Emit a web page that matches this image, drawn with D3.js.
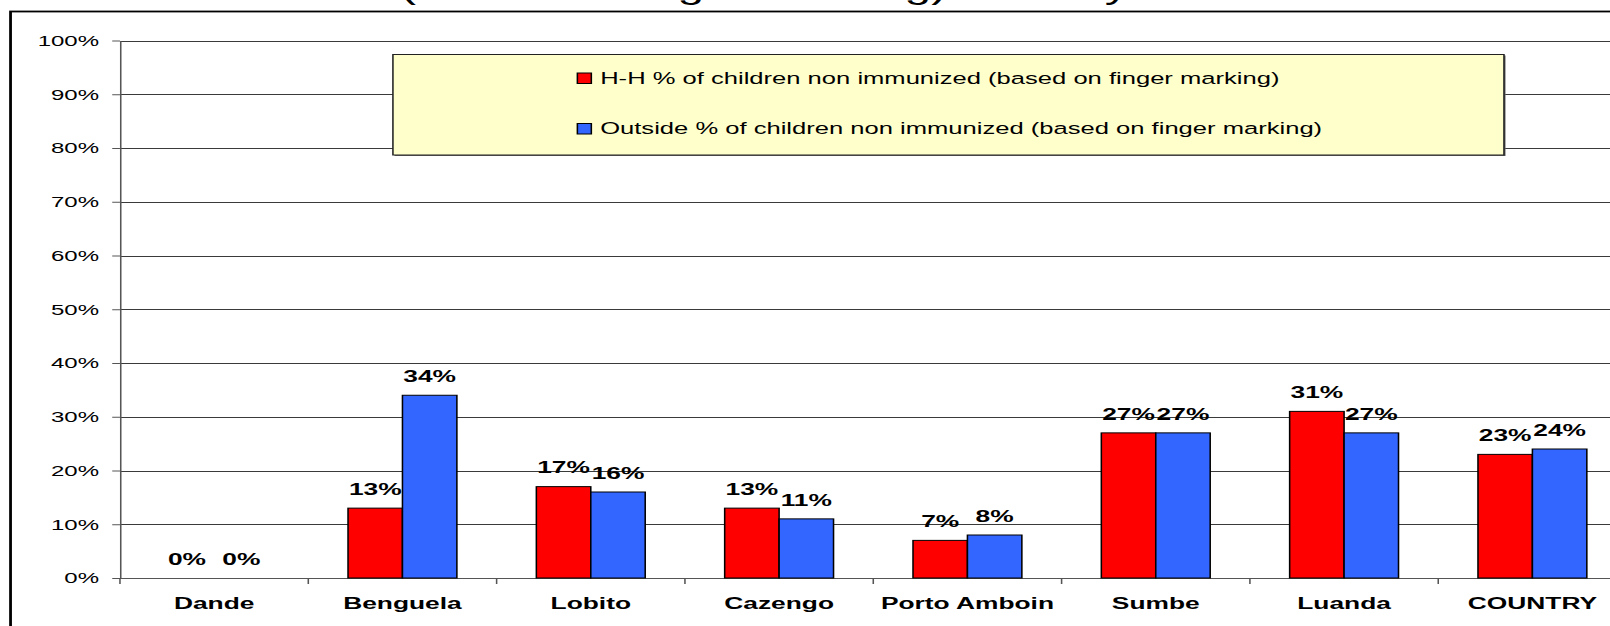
<!DOCTYPE html>
<html>
<head>
<meta charset="utf-8">
<script src="https://cdn.jsdelivr.net/npm/d3@7"></script>
<style>
  html, body { margin: 0; padding: 0; background: #fff; overflow: hidden; }
  svg { display: block; }
  text { font-family: "Liberation Sans", Arial, sans-serif; }
</style>
</head>
<body>
<div id="chart"></div>
<script>
// chart values
var categories = ["Dande", "Benguela", "Lobito", "Cazengo", "Porto Amboin", "Sumbe", "Luanda", "COUNTRY"];
var hhValues = [0, 13, 17, 13, 7, 27, 31, 23];
var outsideValues = [0, 34, 16, 11, 8, 27, 27, 24];
var seriesNames = [
  "H-H % of children non immunized (based on finger marking)",
  "Outside % of children non immunized (based on finger marking)"
];
var seriesColors = ["#ff0000", "#3366ff"];
var yTickValues = [0, 10, 20, 30, 40, 50, 60, 70, 80, 90, 100];
var titleText = "(based on finger marking) Country";

// the reference picture is stretched sideways, so draw narrow and stretch the svg
var stretch = 1.55;
var svgWidth = 1610;
var svgHeight = 626;
var viewWidth = svgWidth / stretch;

var plotLeft = 77.4;
var bandStep = 121.5;
var plotTop = 40.5;
var plotBottom = 578;

var svg = d3.select("#chart")
  .append("svg")
  .attr("width", svgWidth)
  .attr("height", svgHeight)
  .attr("viewBox", "0 0 " + viewWidth + " " + svgHeight)
  .attr("preserveAspectRatio", "none");

// outer frame (cut off at right and bottom like the picture)
svg.append("rect")
  .attr("x", 6.8)
  .attr("y", 11.5)
  .attr("width", 1200)
  .attr("height", 700)
  .attr("fill", "none")
  .attr("stroke", "#000")
  .attr("stroke-width", 1.8);

// title, only its descenders show at the top edge
svg.append("text")
  .attr("x", 258)
  .attr("y", -2)
  .attr("font-size", 31)
  .attr("fill", "#000")
  .text(titleText);

var xScale = d3.scaleBand()
  .domain(categories)
  .range([plotLeft, plotLeft + bandStep * categories.length])
  .paddingInner(0)
  .paddingOuter(0);

var xSeries = d3.scaleBand()
  .domain([0, 1])
  .range([0, xScale.bandwidth()])
  .paddingInner(0)
  .paddingOuter(0.73);

var yScale = d3.scaleLinear()
  .domain([0, 100])
  .range([plotBottom, plotTop]);

// gridlines
svg.append("g")
  .selectAll("line")
  .data(yTickValues)
  .enter()
  .append("line")
  .attr("x1", plotLeft)
  .attr("x2", plotLeft + bandStep * categories.length)
  .attr("y1", d => Math.round(yScale(d)) + 0.5)
  .attr("y2", d => Math.round(yScale(d)) + 0.5)
  .attr("stroke", "#3a3a3a")
  .attr("stroke-width", 1);

// y axis
var leftAxis = d3.axisLeft(yScale)
  .tickValues(yTickValues)
  .tickFormat(d => d + "%")
  .tickSize(5)
  .tickSizeOuter(0)
  .tickPadding(8.5);

var yAxisGroup = svg.append("g")
  .attr("transform", "translate(" + plotLeft + ",0)")
  .call(leftAxis);

yAxisGroup.selectAll("path, line").attr("stroke", "#555");
yAxisGroup.selectAll("text")
  .attr("font-size", 15.5)
  .attr("font-family", "Liberation Sans, Arial, sans-serif")
  .attr("fill", "#000");

// x axis line and ticks between categories
var bottomAxis = d3.axisBottom(xScale)
  .tickSize(0)
  .tickSizeOuter(0)
  .tickPadding(19);

var xAxisGroup = svg.append("g")
  .attr("transform", "translate(0," + plotBottom + ")")
  .call(bottomAxis);

xAxisGroup.select("path").attr("stroke", "#555");
xAxisGroup.selectAll("text")
  .attr("font-size", 17)
  .attr("font-weight", "bold")
  .attr("font-family", "Liberation Sans, Arial, sans-serif")
  .attr("fill", "#000");

var boundaries = categories.map(c => xScale(c)).concat([xScale.range()[1]]);
xAxisGroup.selectAll("line.sep")
  .data(boundaries)
  .enter()
  .append("line")
  .attr("class", "sep")
  .attr("x1", d => d)
  .attr("x2", d => d)
  .attr("y1", 0)
  .attr("y2", 6)
  .attr("stroke", "#555");

// bars
var rows = categories.map(function(c, i) {
  return { category: c, values: [hhValues[i], outsideValues[i]] };
});

var groups = svg.append("g")
  .selectAll("g")
  .data(rows)
  .enter()
  .append("g")
  .attr("transform", d => "translate(" + xScale(d.category) + ",0)");

groups.selectAll("rect")
  .data(d => d.values.map((v, s) => ({ value: v, series: s })))
  .enter()
  .filter(d => d.value > 0)
  .append("rect")
  .attr("x", d => xSeries(d.series))
  .attr("y", d => yScale(d.value))
  .attr("width", xSeries.bandwidth())
  .attr("height", d => plotBottom - yScale(d.value))
  .attr("fill", d => seriesColors[d.series])
  .attr("stroke", "#000")
  .attr("stroke-width", 1);

groups.selectAll("text.lbl")
  .data(d => d.values.map((v, s) => ({ value: v, series: s })))
  .enter()
  .append("text")
  .attr("class", "lbl")
  .attr("x", d => xSeries(d.series) + xSeries.bandwidth() / 2)
  .attr("y", d => yScale(d.value) - 13.3)
  .attr("text-anchor", "middle")
  .attr("font-size", 17)
  .attr("font-weight", "bold")
  .attr("fill", "#000")
  .text(d => d.value + "%");

// legend
var legend = svg.append("g");

legend.append("rect")
  .attr("x", 254.5)
  .attr("y", 55.5)
  .attr("width", 716.8)
  .attr("height", 100.5)
  .attr("fill", "#666");

legend.append("rect")
  .attr("x", 253.5)
  .attr("y", 54.5)
  .attr("width", 716.8)
  .attr("height", 100.5)
  .attr("fill", "#ffffcc")
  .attr("stroke", "#222")
  .attr("stroke-width", 1);

var legendRows = [78, 128.5];

legend.selectAll("rect.key")
  .data(seriesNames)
  .enter()
  .append("rect")
  .attr("class", "key")
  .attr("x", 372.5)
  .attr("y", (d, i) => legendRows[i] - 5)
  .attr("width", 9)
  .attr("height", 10.5)
  .attr("fill", (d, i) => seriesColors[i])
  .attr("stroke", "#000")
  .attr("stroke-width", 1);

legend.selectAll("text.key")
  .data(seriesNames)
  .enter()
  .append("text")
  .attr("class", "key")
  .attr("x", 387.2)
  .attr("y", (d, i) => legendRows[i] + 6)
  .attr("font-size", 16.5)
  .attr("fill", "#000")
  .text(d => d);
</script>
</body>
</html>
